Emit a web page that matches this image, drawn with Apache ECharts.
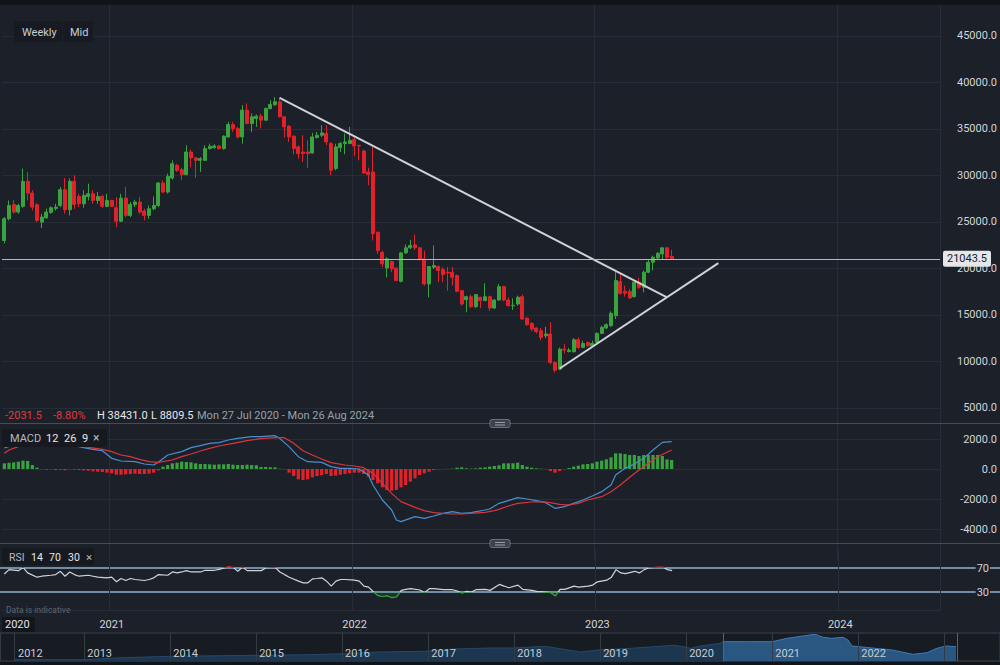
<!DOCTYPE html>
<html><head><meta charset="utf-8">
<script src="https://cdn.jsdelivr.net/npm/echarts@6/dist/echarts.min.js"></script>
<style>html,body{margin:0;padding:0;background:#1b2029;}#c{width:1000px;height:665px;}</style>
</head><body><div id="c"></div>
<script>
// ---------- data ----------
const startDate = '2020-07-27';
const slotCount = 201; // weekly slots shown on the axis (candles + empty future)
const opens  = [23010,25350,26890,26070,26680,29370,28110,26860,24990,25450,26030,26460,26780,28470,26320,29370,27750,26960,27750,28040,27320,27750,26680,27320,26530,25090,27570,25710,26890,27140,26170,25710,26420,26780,29190,28220,29730,31100,30630,30090,32530,31890,31630,31630,32890,32990,33180,32890,34150,35480,35050,34150,37030,35590,36130,36380,35950,37200,37600,37920,36310,35300,34220,33070,32530,32530,32420,34080,34330,34510,33430,30740,33000,33430,33430,33860,33250,32640,30380,30380,23910,21750,20060,20750,20030,18630,21680,22220,22540,22220,21030,18340,20140,20210,19880,19600,19600,19240,17620,16650,16970,15900,16900,16540,16970,15750,16610,18050,16610,16000,16180,16970,14670,14100,13600,13310,12770,12950,9900,9180,11330,11080,11050,12340,11510,12050,11690,12050,13020,13600,13850,14920,18590,17550,17550,16970,18520,17980,19600,20670,21140,21570,22220,21290];
const closes = [25350,26780,26070,26780,29370,28110,26600,25170,25530,26070,26530,26600,28470,26320,29370,26890,26960,27860,28040,27320,27750,26680,27320,26680,25090,27570,25710,26890,27140,26070,25710,26420,26780,29190,28220,29910,31270,30560,30090,32530,31890,31630,31810,32890,33140,33180,32890,34220,35480,35050,34150,37030,35590,36310,36380,35950,37200,37640,37920,36310,35230,34150,32890,32350,32350,32350,34150,34330,34580,33610,30560,33070,33430,33610,33790,33180,33180,30270,30120,23730,21930,20500,21030,19960,18700,21680,22220,22470,22220,20960,18340,20210,20320,19780,19340,19520,19060,17550,16180,16970,15900,17190,16540,16970,15750,16610,18050,16610,16000,16040,16900,14570,13960,13490,13200,12590,12950,9900,9070,11330,11230,11230,12340,11510,11940,11690,11940,13020,13670,13960,15180,18700,17330,17330,16830,18520,17980,19600,20670,21210,21640,22220,21210,21043.5];
const lows   = [22720,25170,25890,25890,26530,27320,26250,24990,24340,25350,25890,26250,26600,25890,25710,26420,26600,26530,27320,26960,26960,26530,26600,26600,24450,24990,25530,25530,26600,25890,25170,25350,26250,26600,28110,28040,29550,30380,29480,30020,30920,29730,30380,31560,32780,32890,32780,32780,34080,34690,33970,33430,35520,34690,35230,35050,35880,37100,37490,36230,34080,33610,32280,31810,31450,30830,32350,33970,34150,33250,30020,30560,32530,32280,33430,32060,31630,30200,28940,23010,21570,20140,19060,19600,18630,18520,21570,22110,22000,20850,18160,16900,19960,18520,18520,17620,18160,17440,16000,15290,15750,15750,15750,16540,15460,15640,16540,16470,15900,15540,16000,14460,13850,13240,13020,12300,12520,9720,8809.5,9070,10870,10970,10970,11330,11440,11580,11510,11940,12950,13490,13740,14570,17190,16970,16720,16900,17800,17440,19490,19780,20930,21030,20930,20930];
const highs  = [25530,27320,27390,26960,30740,30380,28400,27040,25880,26420,26680,26960,28760,29730,29660,30020,28040,28400,29120,28400,28220,27930,28040,27390,27680,28040,28760,27140,27390,27680,26420,26780,27750,29300,29480,30200,31630,31270,30810,33250,32780,31990,31990,33250,33430,33360,33250,34330,35770,35770,35230,37560,37740,36670,36560,36670,37310,38100,38431,38390,36380,35410,34330,33250,34330,33790,34580,34690,35410,35410,33610,33430,33610,34510,35230,34150,33250,32780,30840,33070,23910,21930,21210,20860,20140,21750,22580,23080,23660,22290,21930,20210,22470,20320,20140,20140,20140,19350,17690,17080,17190,17260,16970,18410,17080,16720,18340,18160,16900,16790,17080,17190,14740,14210,13670,13600,13740,14210,10000,11510,11870,11440,12520,12590,12230,12160,12230,13130,13850,14100,15390,19600,19410,18160,17800,18700,18990,19780,20930,21390,21750,22290,22290,22000];
const priceTickStep = 5000;
const priceMax = 48333;
const lastPrice = 21043.5;
const trendDown = [[59, 38350], [142, 16900]];
const trendUp   = [[119, 9250], [153, 20570]];

const macdHist = [378,422,444,489,556,533,267,89,-22,-44,-22,-67,-44,-89,-22,-44,-67,-89,-111,-155,-178,-200,-244,-289,-378,-378,-355,-333,-311,-333,-333,-311,-244,-89,156,267,378,422,489,467,444,378,333,333,311,289,311,311,333,289,267,267,289,267,244,133,133,111,111,20,-22,-244,-467,-689,-733,-689,-555,-467,-400,-333,-467,-444,-378,-333,-289,-244,-244,-333,-511,-733,-955,-1222,-1400,-1444,-1400,-1222,-1067,-844,-622,-400,-289,-178,-67,-20,-10,10,20,89,111,44,22,44,89,111,156,200,244,378,378,378,422,267,156,89,44,22,-10,-133,-244,-133,-22,67,156,222,311,333,378,489,556,644,778,1044,1044,1000,933,933,867,933,933,933,933,867,644,600];
const macdLine = [[0,1400],[3,1711],[5,1866],[6,1822],[8,1711],[10,1644],[13,1555],[15,1555],[17,1422],[19,1311],[21,1222],[23,711],[25,533],[28,489],[30,333],[32,267],[33,444],[35,933],[38,1155],[40,1422],[42,1555],[44,1711],[46,1755],[48,1933],[50,2044],[53,2155],[55,2155],[58,2222],[59,2044],[61,1489],[63,822],[65,489],[68,444],[70,156],[72,44],[74,44],[76,0],[78,-400],[79,-1067],[81,-2067],[83,-2733],[84,-3400],[85,-3511],[88,-3178],[90,-3289],[92,-3133],[94,-2955],[96,-2844],[98,-2955],[100,-2911],[103,-2733],[104,-2666],[106,-2289],[108,-2111],[110,-1911],[112,-2000],[114,-2111],[116,-2244],[118,-2622],[120,-2511],[122,-2289],[124,-2067],[126,-1800],[128,-1511],[130,-1067],[131,-400],[133,44],[135,333],[137,711],[139,1267],[141,1777],[143,1822]];
const macdSignal = [[0,1044],[1,1267],[3,1489],[5,1711],[8,1666],[10,1644],[12,1600],[14,1555],[16,1533],[18,1444],[21,1311],[23,1155],[25,933],[27,822],[29,644],[31,489],[33,444],[36,600],[38,822],[40,1000],[42,1200],[44,1378],[46,1533],[49,1711],[52,1889],[55,2022],[58,2089],[60,2089],[62,1711],[64,1222],[66,933],[68,667],[70,422],[73,267],[75,200],[77,89],[79,-289],[81,-955],[83,-1622],[85,-2178],[88,-2555],[90,-2778],[92,-2911],[94,-2955],[96,-3000],[98,-3000],[100,-2955],[103,-2889],[105,-2778],[106,-2689],[108,-2466],[110,-2289],[113,-2200],[115,-2178],[117,-2244],[119,-2355],[121,-2400],[123,-2289],[125,-2067],[128,-1844],[130,-1511],[132,-1067],[134,-555],[136,-67],[138,378],[140,822],[143,1267]];
const rsiLine = [[0,60],[1,67.3],[3,65.6],[4,71],[5,61.8],[7,54.7],[8,56.3],[10,57.9],[11,59],[12,64.5],[13,56.3],[14,63.4],[15,59],[16,56.3],[18,57.9],[19,56.3],[20,54.7],[22,53.6],[23,54.7],[24,47],[25,52.5],[26,49.2],[27,52.5],[28,50.8],[30,49.2],[31,50.8],[32,53.6],[33,59],[35,57.9],[36,63.4],[37,61.8],[38,63.4],[39,65.6],[40,63.4],[42,63.4],[43,66.2],[45,66.2],[46,67.8],[48,72.2],[49,71],[50,64.5],[51,71.6],[52,65.6],[53,65.6],[55,65.6],[56,70],[58,71],[59,63.4],[60,59],[61,54.7],[63,48.1],[64,45.3],[65,45.3],[66,51.9],[67,52.5],[68,53.6],[69,48.1],[70,39.9],[71,48.1],[72,50.8],[73,50.8],[75,49.7],[76,48.1],[77,39.9],[78,38.2],[79,30.5],[80,24],[81,22.5],[82,23.4],[83,20.7],[84,21.8],[85,32.7],[86,34.4],[87,35.5],[89,33.3],[90,28.9],[91,35.5],[92,35.5],[94,33.8],[96,33.8],[97,31.6],[98,27.8],[99,31.1],[100,30],[101,33.8],[103,34.4],[104,32.7],[106,42.6],[107,39.9],[108,37.1],[110,41.5],[111,34.4],[113,32.7],[114,31.1],[115,30.5],[117,28.9],[118,23.4],[119,34.4],[120,34.4],[122,39.9],[123,38.2],[125,39.9],[126,41.5],[127,47],[129,49.7],[130,54.7],[131,67.3],[132,61.8],[133,60.7],[135,64.5],[136,61.8],[137,67.3],[138,70],[140,71.6],[141,71.6],[142,67.3],[143,65.6]];
const rsiLevels = [30, 70];

const navDates  = ['2012-03-10','2013-01-01','2013-05-15','2014-01-01','2014-08-15','2015-01-01','2015-08-15','2016-01-01','2016-06-01','2016-12-15','2017-04-20','2017-09-25','2017-12-28','2018-05-10','2018-10-10','2019-01-01','2019-04-15','2019-11-10','2020-01-01','2020-01-20','2020-03-01','2020-05-25','2020-06-05','2020-09-10','2021-01-01','2021-03-05','2021-05-10','2021-07-01','2021-08-05','2021-09-10','2021-10-28','2021-11-18','2021-12-05','2022-02-05','2022-05-25','2022-08-20','2022-10-20','2022-12-01','2023-01-10','2023-02-20'];
const navValues = [1800,1800,4200,6600,7400,8000,8800,10200,12600,13600,16800,18200,18200,20600,12600,15800,17200,22000,19200,17800,21000,24800,27000,27000,27000,31700,35000,37400,33200,31700,33200,29400,21000,19000,15400,9400,11600,17800,21000,20000];
const navWindow = ['2020-06-05', '2023-02-24'];
const navRange  = ['2012-01-09', '2023-08-26'];
const navYearLabels = ['2012','2013','2014','2015','2016','2017','2018','2019','2020','2021','2022'];

// ---------- build ----------
const G = '#38a33f', R = '#e2222a';
const GRID = '#262d36', TXT = '#d2d5da', FONT = 'Roboto, "DejaVu Sans", sans-serif';
const weeks = [];
const d0 = Date.parse(startDate + 'T00:00:00Z');
for (let i = 0; i < slotCount; i++) weeks.push(new Date(d0 + i * 7 * 86400000).toISOString().slice(0, 10));
const isYearStart = i => i > 0 && weeks[i].slice(0, 4) !== weeks[i - 1].slice(0, 4);
const candles = opens.map((o, i) => [o, closes[i], lows[i], highs[i]]);
const navPts = navDates.map((d, i) => [d, navValues[i]]);
const navDim = navPts.filter(p => p[0] <= navWindow[0]);
const navBright = navPts.filter(p => p[0] >= navWindow[0]);

const GL = 2, GW = slotCount * 4.67;
function xAx(gi, labels) {
  return {
    type: 'category', gridIndex: gi, data: weeks, boundaryGap: true,
    axisLine: {show: false}, axisTick: {show: false},
    axisLabel: {show: labels, interval: i => isYearStart(i), formatter: v => v.slice(0, 4), color: TXT, fontSize: 11, margin: 9, fontFamily: FONT},
    splitLine: {show: true, interval: i => isYearStart(i), lineStyle: {color: GRID}}
  };
}
function txt(x, y, text, color, size, extra) {
  return Object.assign({type: 'text', x, y, z: 100, style: {text, fill: color, font: (size || 11) + 'px ' + FONT, align: 'left', verticalAlign: 'middle'}}, extra || {});
}
function rect(x, y, w, h, fill, extra) {
  return Object.assign({type: 'rect', z: 90, shape: {x, y, width: w, height: h, r: 2}, style: {fill}}, extra || {});
}
function handle(y) {
  return [
    {type: 'line', z: 90, shape: {x1: 0, y1: y, x2: 1000, y2: y}, style: {stroke: '#464d57', lineWidth: 1}},
    {type: 'rect', z: 95, shape: {x: 490, y: y - 4, width: 20, height: 8, r: 2}, style: {fill: '#3b414a', stroke: '#6b717a', lineWidth: 1}},
    {type: 'line', z: 96, shape: {x1: 495, y1: y - 1, x2: 505, y2: y - 1}, style: {stroke: '#9aa0a8', lineWidth: 1}},
    {type: 'line', z: 96, shape: {x1: 495, y1: y + 1.5, x2: 505, y2: y + 1.5}, style: {stroke: '#9aa0a8', lineWidth: 1}}
  ];
}

const chart = echarts.init(document.getElementById('c'), null, {renderer: 'svg'});
chart.setOption({
  backgroundColor: '#1b2029',
  animation: false,
  textStyle: {fontFamily: FONT},
  grid: [
    {left: GL, width: GW, top: 5, height: 449.5},
    {left: GL, width: GW, top: 409, height: 150},
    {left: GL, width: GW, top: 550, height: 60},
    {left: 0, right: 0, top: 568, height: 24},
    {left: 0, right: 0, top: 633, height: 28, show: true, backgroundColor: '#171b22', borderColor: '#39404a', borderWidth: 1}
  ],
  xAxis: [
    xAx(0, false), xAx(1, false), xAx(2, true),
    {type: 'value', gridIndex: 3, min: 0, max: 1, show: false},
    {type: 'time', gridIndex: 4, min: navRange[0], max: navRange[1], minInterval: 365 * 86400000, maxInterval: 366 * 86400000, z: 6,
      axisLine: {show: false}, axisTick: {show: false},
      axisLabel: {inside: true, margin: 2, align: 'left', padding: [0, 0, 0, 3], color: '#c8ccd2', fontSize: 11, fontFamily: FONT,
        formatter: v => { const y = String(new Date(v).getFullYear()); return navYearLabels.indexOf(y) >= 0 ? y : ''; }},
      splitLine: {show: true, lineStyle: {color: '#343b45'}}}
  ],
  yAxis: [
    {type: 'value', gridIndex: 0, position: 'right', min: 0, max: priceMax, interval: priceTickStep,
      axisLine: {show: false}, axisTick: {show: false},
      axisLabel: {color: TXT, fontSize: 11, align: 'right', margin: 57, showMinLabel: false, showMaxLabel: false, formatter: v => v.toFixed(1), fontFamily: FONT},
      splitLine: {lineStyle: {color: GRID}, showMinLine: false, showMaxLine: false}},
    {type: 'value', gridIndex: 1, position: 'right', min: -6000, max: 4000, interval: 2000,
      axisLine: {show: false}, axisTick: {show: false},
      axisLabel: {color: TXT, fontSize: 11, align: 'right', margin: 57, showMinLabel: false, showMaxLabel: false, formatter: v => v.toFixed(1), fontFamily: FONT},
      splitLine: {lineStyle: {color: GRID}, showMinLine: false, showMaxLine: false}},
    {type: 'value', gridIndex: 2, min: 0, max: 100, interval: 100, axisLine: {show: false}, axisTick: {show: false}, axisLabel: {show: false},
      splitLine: {lineStyle: {color: GRID}, showMaxLine: false}},
    {type: 'value', gridIndex: 3, position: 'right', min: rsiLevels[0], max: rsiLevels[1], interval: rsiLevels[1] - rsiLevels[0],
      axisLine: {show: false}, axisTick: {show: false},
      axisLabel: {inside: true, margin: 10, color: TXT, fontSize: 11, backgroundColor: '#1b2029', padding: [0, 1], fontFamily: FONT},
      splitLine: {lineStyle: {color: '#8fb0cc', width: 1.5}}},
    {type: 'value', gridIndex: 4, min: 0, max: 39200, show: false}
  ],
  visualMap: [{type: 'piecewise', show: false, seriesIndex: 6, dimension: 1,
    pieces: [{lt: 30, color: G}, {gte: 30, lte: 70, color: '#d0d3d8'}, {gt: 70, color: R}]}],
  series: [
    {type: 'candlestick', xAxisIndex: 0, yAxisIndex: 0, data: candles, barWidth: 3.4, z: 3,
      itemStyle: {color: G, color0: R, borderColor: G, borderColor0: R, borderWidth: 1},
      markLine: {symbol: 'none', silent: true, data: [{yAxis: lastPrice}], lineStyle: {color: '#b4b8be', width: 1, type: 'solid'},
        label: {position: 'end', formatter: () => lastPrice.toFixed(1), color: '#1b2029', backgroundColor: '#e4e6e9', padding: [3, 4, 2, 4], borderRadius: 2, fontSize: 11, distance: 3, fontFamily: FONT}}},
    {type: 'line', xAxisIndex: 0, yAxisIndex: 0, data: trendDown, symbol: 'none', lineStyle: {color: '#cfd2d6', width: 2}, z: 4},
    {type: 'line', xAxisIndex: 0, yAxisIndex: 0, data: trendUp, symbol: 'none', lineStyle: {color: '#cfd2d6', width: 2}, z: 4},
    {type: 'bar', xAxisIndex: 1, yAxisIndex: 1, data: macdHist, barWidth: 3.2,
      itemStyle: {color: p => p.value >= 0 ? G : R}},
    {type: 'line', xAxisIndex: 1, yAxisIndex: 1, data: macdLine, symbol: 'none', lineStyle: {color: '#4a8fd0', width: 1.2}},
    {type: 'line', xAxisIndex: 1, yAxisIndex: 1, data: macdSignal, symbol: 'none', lineStyle: {color: '#d8363c', width: 1.2}},
    {type: 'line', xAxisIndex: 2, yAxisIndex: 2, data: rsiLine, symbol: 'none', lineStyle: {width: 1.2}, z: 5},
    {type: 'line', xAxisIndex: 2, yAxisIndex: 2, data: rsiLine.map(p => [p[0], Math.min(p[1], rsiLevels[0])]), symbol: 'none',
      lineStyle: {opacity: 0}, areaStyle: {color: 'rgba(56,163,63,0.22)', origin: rsiLevels[0]}, z: 4},
    {type: 'line', xAxisIndex: 4, yAxisIndex: 4, data: navDim, symbol: 'none', z: 2, lineStyle: {color: '#27486a', width: 1}, areaStyle: {color: '#1d3650', opacity: 1},
      markLine: {symbol: 'none', silent: true, label: {show: false}, lineStyle: {color: '#343b45', width: 1, type: 'solid'},
        data: [{xAxis: Date.parse(navDates[0])}]}},
    {type: 'line', xAxisIndex: 4, yAxisIndex: 4, data: navBright, symbol: 'none', z: 2, lineStyle: {color: '#3d7cba', width: 1}, areaStyle: {color: '#2a5682', opacity: 1},
      markLine: {symbol: 'none', silent: true, label: {show: false}, lineStyle: {color: '#5b626c', width: 1, type: 'solid'},
        data: [{xAxis: Date.parse(navWindow[0])}, {xAxis: Date.parse(navWindow[1])}]}}
  ],
  graphic: [
    rect(0, 0, 1000, 5, '#11151a', {shape: {x: 0, y: 0, width: 1000, height: 5}}),
    rect(0, 662, 1000, 3, '#11151a', {shape: {x: 0, y: 662, width: 1000, height: 3}}),
    rect(14, 21, 48, 21, '#171b21'), rect(63, 21, 30, 21, '#171b21'),
    txt(22, 32, 'Weekly', '#c9ccd1', 11), txt(70, 32, 'Mid', '#c9ccd1', 11),
    txt(5, 415, '-2031.5', '#e0393e', 11), txt(53, 415, '-8.80%', '#e0393e', 11),
    txt(97, 415, 'H 38431.0', '#e6e8eb', 11), txt(151, 415, 'L 8809.5', '#e6e8eb', 11),
    txt(197, 415, 'Mon 27 Jul 2020 - Mon 26 Aug 2024', '#9aa0a8', 11),
    ...handle(423.5), ...handle(543.5),
    rect(2, 429, 105, 18, '#161a20'),
    txt(10, 438, 'MACD', '#b5b9bf', 11), txt(46, 438, '12', '#e6e8eb', 11), txt(64, 438, '26', '#e6e8eb', 11), txt(82, 438, '9', '#e6e8eb', 11), txt(93, 438, '×', '#b5b9bf', 12),
    rect(2, 548, 92, 17, '#161a20'),
    txt(9, 557, 'RSI', '#b5b9bf', 10.5), txt(31, 557, '14', '#e6e8eb', 10.5), txt(49, 557, '70', '#e6e8eb', 10.5), txt(68, 557, '30', '#e6e8eb', 10.5), txt(86, 557, '×', '#b5b9bf', 11.5),
    txt(6, 610, 'Data is indicative', '#5f656d', 8.5),
    rect(2, 617, 33, 15, '#12161b'),
    txt(5, 624.5, '2020', '#e0e2e6', 11),
    txt(18, 653, navYearLabels[0], '#c8ccd2', 11)
  ]
});
</script>
</body></html>
